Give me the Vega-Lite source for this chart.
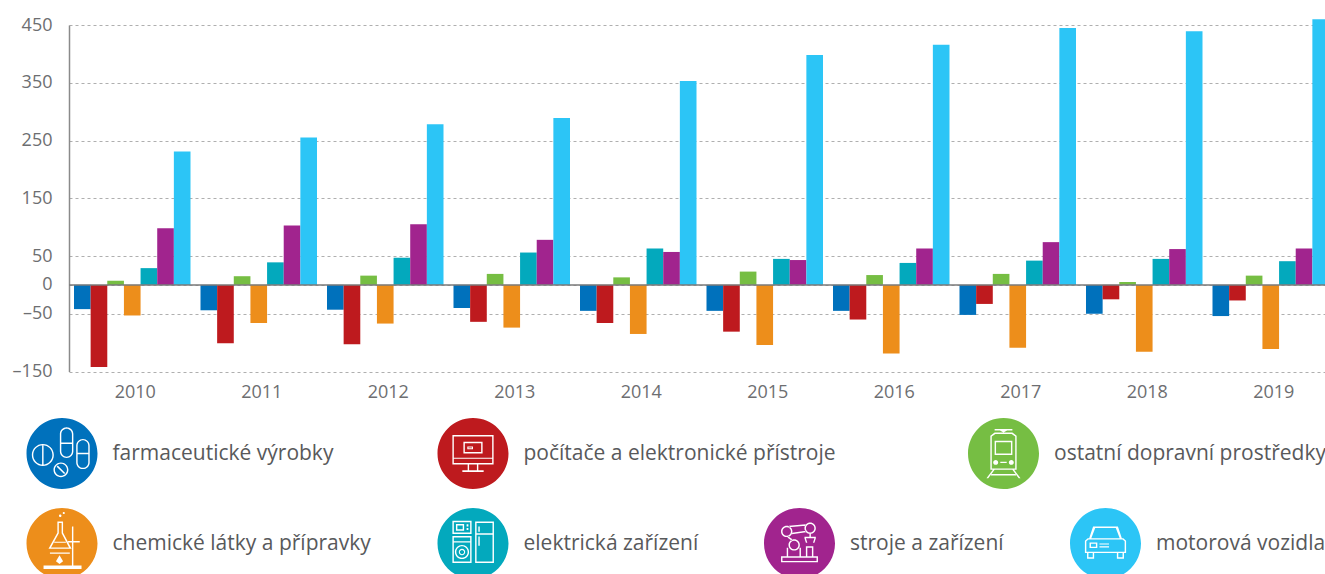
{"$schema":"https://vega.github.io/schema/vega-lite/v6.json","width":1256,"height":346.5,"autosize":"none","padding":{"left":69,"top":25,"right":0,"bottom":202.5},"background":"white","config":{"view":{"stroke":null},"font":"Open Sans","legend":{"padding":0,"labelFont":"Open Sans","labelFontSize":21,"labelColor":"#58595B","labelOffset":15,"labelLimit":500,"symbolStrokeWidth":0,"symbolOpacity":1}},"data":{"values":[
{"year":"2010","series":"farmaceutické výrobky","value":-42},{"year":"2010","series":"počítače a elektronické přístroje","value":-142},{"year":"2010","series":"ostatní dopravní prostředky","value":7},{"year":"2010","series":"chemické látky a přípravky","value":-53},{"year":"2010","series":"elektrická zařízení","value":29},{"year":"2010","series":"stroje a zařízení","value":98},{"year":"2010","series":"motorová vozidla","value":231},
{"year":"2011","series":"farmaceutické výrobky","value":-44},{"year":"2011","series":"počítače a elektronické přístroje","value":-101},{"year":"2011","series":"ostatní dopravní prostředky","value":15},{"year":"2011","series":"chemické látky a přípravky","value":-66},{"year":"2011","series":"elektrická zařízení","value":39},{"year":"2011","series":"stroje a zařízení","value":103},{"year":"2011","series":"motorová vozidla","value":255},
{"year":"2012","series":"farmaceutické výrobky","value":-43},{"year":"2012","series":"počítače a elektronické přístroje","value":-103},{"year":"2012","series":"ostatní dopravní prostředky","value":16},{"year":"2012","series":"chemické látky a přípravky","value":-67},{"year":"2012","series":"elektrická zařízení","value":47},{"year":"2012","series":"stroje a zařízení","value":105},{"year":"2012","series":"motorová vozidla","value":278},
{"year":"2013","series":"farmaceutické výrobky","value":-40},{"year":"2013","series":"počítače a elektronické přístroje","value":-64},{"year":"2013","series":"ostatní dopravní prostředky","value":19},{"year":"2013","series":"chemické látky a přípravky","value":-74},{"year":"2013","series":"elektrická zařízení","value":56},{"year":"2013","series":"stroje a zařízení","value":78},{"year":"2013","series":"motorová vozidla","value":289},
{"year":"2014","series":"farmaceutické výrobky","value":-45},{"year":"2014","series":"počítače a elektronické přístroje","value":-66},{"year":"2014","series":"ostatní dopravní prostředky","value":13},{"year":"2014","series":"chemické látky a přípravky","value":-85},{"year":"2014","series":"elektrická zařízení","value":63},{"year":"2014","series":"stroje a zařízení","value":57},{"year":"2014","series":"motorová vozidla","value":353},
{"year":"2015","series":"farmaceutické výrobky","value":-45},{"year":"2015","series":"počítače a elektronické přístroje","value":-81},{"year":"2015","series":"ostatní dopravní prostředky","value":23},{"year":"2015","series":"chemické látky a přípravky","value":-104},{"year":"2015","series":"elektrická zařízení","value":45},{"year":"2015","series":"stroje a zařízení","value":43},{"year":"2015","series":"motorová vozidla","value":398},
{"year":"2016","series":"farmaceutické výrobky","value":-45},{"year":"2016","series":"počítače a elektronické přístroje","value":-60},{"year":"2016","series":"ostatní dopravní prostředky","value":17},{"year":"2016","series":"chemické látky a přípravky","value":-119},{"year":"2016","series":"elektrická zařízení","value":38},{"year":"2016","series":"stroje a zařízení","value":63},{"year":"2016","series":"motorová vozidla","value":416},
{"year":"2017","series":"farmaceutické výrobky","value":-52},{"year":"2017","series":"počítače a elektronické přístroje","value":-33},{"year":"2017","series":"ostatní dopravní prostředky","value":19},{"year":"2017","series":"chemické látky a přípravky","value":-109},{"year":"2017","series":"elektrická zařízení","value":42},{"year":"2017","series":"stroje a zařízení","value":74},{"year":"2017","series":"motorová vozidla","value":445},
{"year":"2018","series":"farmaceutické výrobky","value":-50},{"year":"2018","series":"počítače a elektronické přístroje","value":-25},{"year":"2018","series":"ostatní dopravní prostředky","value":5},{"year":"2018","series":"chemické látky a přípravky","value":-116},{"year":"2018","series":"elektrická zařízení","value":45},{"year":"2018","series":"stroje a zařízení","value":62},{"year":"2018","series":"motorová vozidla","value":439},
{"year":"2019","series":"farmaceutické výrobky","value":-54},{"year":"2019","series":"počítače a elektronické přístroje","value":-27},{"year":"2019","series":"ostatní dopravní prostředky","value":16},{"year":"2019","series":"chemické látky a přípravky","value":-111},{"year":"2019","series":"elektrická zařízení","value":41},{"year":"2019","series":"stroje a zařízení","value":63},{"year":"2019","series":"motorová vozidla","value":460}
]},
"layer":[{"encoding":{
"x":{"field":"year","type":"nominal","title":null,"scale":{"range":[0,1265],"paddingInner":0.079,"paddingOuter":0.0395},"axis":{"domain":false,"ticks":false,"labelAngle":0,"labelFont":"Open Sans","labelFontSize":18,"labelColor":"#6D6E71","labelPadding":12,"labelOffset":3,"grid":false}},
"xOffset":{"field":"series","type":"nominal","scale":{"domain":["farmaceutické výrobky","počítače a elektronické přístroje","ostatní dopravní prostředky","chemické látky a přípravky","elektrická zařízení","stroje a zařízení","motorová vozidla"],"paddingInner":0,"paddingOuter":0}},
"y":{"field":"value","type":"quantitative","title":null,"scale":{"domain":[-150,450],"nice":false,"zero":false},"axis":{"values":[450,350,250,150,50,0,-50,-150],"labelExpr":"datum.value<0?'–'+abs(datum.value):''+datum.value","domain":true,"domainColor":"#8A8A8A","domainWidth":1.5,"ticks":false,"labelFont":"Open Sans","labelFontSize":18,"labelColor":"#6D6E71","labelPadding":17,"grid":true,"gridColor":"#AFAFAF","gridWidth":1,"gridDash":[3,3]}}},
"resolve":{"scale":{"color":"independent"}},
"layer":[
{"transform":[{"filter":"datum.series==='farmaceutické výrobky'"}],"mark":{"type":"bar"},"encoding":{"color":{"field":"series","type":"nominal","scale":{"domain":["farmaceutické výrobky"],"range":["#0071BC"]},"legend":{"title":null,"orient":"none","legendX":-42.5,"legendY":393,"symbolSize":5041,"symbolType":"M-1 0A1 1 0 1 1 1 0A1 1 0 1 1 -1 0ZM-0.85 0.04A0.31 0.31 0 1 0 -0.23 0.04A0.31 0.31 0 1 0 -0.85 0.04ZM-0.81 0.04A0.27 0.27 0 1 1 -0.27 0.04A0.27 0.27 0 1 1 -0.81 0.04ZM-0.56 -0.23V0.31H-0.52V-0.23ZM-0.06 -0.55V-0.06A0.19 0.19 0 0 0 0.32 -0.06V-0.55A0.19 0.19 0 0 0 -0.06 -0.55ZM-0.02 -0.55A0.15 0.15 0 0 1 0.28 -0.55V-0.06A0.15 0.15 0 0 1 -0.02 -0.06ZM-0.02 -0.31V-0.27H0.28V-0.31ZM0.4 -0.22V0.25A0.19 0.19 0 0 0 0.78 0.25V-0.22A0.19 0.19 0 0 0 0.4 -0.22ZM0.44 -0.22A0.15 0.15 0 0 1 0.74 -0.22V0.25A0.15 0.15 0 0 1 0.44 0.25ZM0.44 -0.02V0.02H0.74V-0.02ZM-0.24 0.46A0.21 0.21 0 1 0 0.18 0.46A0.21 0.21 0 1 0 -0.24 0.46ZM-0.2 0.46A0.17 0.17 0 1 1 0.14 0.46A0.17 0.17 0 1 1 -0.2 0.46ZM-0.12 0.34L-0.15 0.37L0.06 0.58L0.09 0.55Z"}}}},
{"transform":[{"filter":"datum.series==='počítače a elektronické přístroje'"}],"mark":{"type":"bar"},"encoding":{"color":{"field":"series","type":"nominal","scale":{"domain":["počítače a elektronické přístroje"],"range":["#BE1A1E"]},"legend":{"title":null,"orient":"none","legendX":368.5,"legendY":393,"symbolSize":5041,"symbolType":"M-1 0A1 1 0 1 1 1 0A1 1 0 1 1 -1 0ZM-0.58 -0.52V0.31H0.58V-0.52ZM-0.54 -0.48H0.54V0.27H-0.54ZM-0.54 0.12V0.15H0.54V0.12ZM-0.27 -0.33V0H0.27V-0.33ZM-0.23 -0.29H0.23V-0.04H-0.23ZM-0.16 -0.2V-0.12H0V-0.2ZM-0.13 -0.17H-0.03V-0.15H-0.13ZM-0.15 0.31V0.47H-0.11V0.31ZM0.11 0.31V0.47H0.15V0.31ZM-0.3 0.47V0.52H0.3V0.47Z"}}}},
{"transform":[{"filter":"datum.series==='ostatní dopravní prostředky'"}],"mark":{"type":"bar"},"encoding":{"color":{"field":"series","type":"nominal","scale":{"domain":["ostatní dopravní prostředky"],"range":["#76BE43"]},"legend":{"title":null,"orient":"none","legendX":899,"legendY":393,"symbolSize":5041,"symbolType":"M-1 0A1 1 0 1 1 1 0A1 1 0 1 1 -1 0ZM-0.37 -0.5V0.46H0.37V-0.5L0.25 -0.59H-0.25ZM-0.33 -0.48L-0.23 -0.55H0.23L0.33 -0.48V0.42H-0.33ZM-0.25 -0.36V0.04H0.25V-0.36ZM-0.21 -0.32H0.21V0H-0.21ZM-0.29 0.25A0.07 0.07 0 1 0 -0.15 0.25A0.07 0.07 0 1 0 -0.29 0.25ZM0.15 0.25A0.07 0.07 0 1 0 0.29 0.25A0.07 0.07 0 1 0 0.15 0.25ZM-0.09 0.23V0.27H0.09V0.23ZM-0.25 -0.69V-0.65H0.25V-0.69ZM-0.1 -0.65L0 -0.59L0.1 -0.65ZM-0.355 0.58V0.62H0.355V0.58ZM-0.3 0.46L-0.48 0.7L-0.43 0.7L-0.25 0.46ZM0.25 0.46L0.43 0.7L0.48 0.7L0.3 0.46Z"}}}},
{"transform":[{"filter":"datum.series==='chemické látky a přípravky'"}],"mark":{"type":"bar"},"encoding":{"color":{"field":"series","type":"nominal","scale":{"domain":["chemické látky a přípravky"],"range":["#ED8E1B"]},"legend":{"title":null,"orient":"none","legendX":-42.5,"legendY":483,"symbolSize":5041,"symbolType":"M-1 0A1 1 0 1 1 1 0A1 1 0 1 1 -1 0ZM-0.13 -0.62V-0.3L-0.38 0.15H0.27L0.03 -0.3V-0.62ZM-0.09 -0.58H-0.01V-0.29L0.2 0.11H-0.31L-0.09 -0.29ZM-0.22 -0.05V-0.02H0.11V-0.05ZM-0.34 0.25V0.29H0.22V0.25ZM0.28 -0.48V0.62H0.32V-0.48ZM0.17 -0.07V-0.03H0.28V-0.07ZM0.32 -0.07V-0.03H0.5V-0.07ZM-0.52 0.62V0.72H0.55V0.62ZM-0.07 0.33L-0.17 0.5L-0.07 0.58L0.03 0.5ZM-0.085 -0.78A0.035 0.035 0 1 0 -0.015 -0.78A0.035 0.035 0 1 0 -0.085 -0.78ZM0.02 -0.86A0.03 0.03 0 1 0 0.08 -0.86A0.03 0.03 0 1 0 0.02 -0.86Z"}}}},
{"transform":[{"filter":"datum.series==='elektrická zařízení'"}],"mark":{"type":"bar"},"encoding":{"color":{"field":"series","type":"nominal","scale":{"domain":["elektrická zařízení"],"range":["#03A9BD"]},"legend":{"title":null,"orient":"none","legendX":368.5,"legendY":483,"symbolSize":5041,"symbolType":"M-1 0A1 1 0 1 1 1 0A1 1 0 1 1 -1 0ZM-0.58 -0.64V-0.27H-0.04V-0.64ZM-0.54 -0.6H-0.08V-0.31H-0.54ZM-0.48 -0.55V-0.36H-0.25V-0.55ZM-0.44 -0.51H-0.29V-0.4H-0.44ZM-0.18 -0.54V-0.48H-0.13V-0.54ZM-0.18 -0.44V-0.38H-0.13V-0.44ZM-0.58 -0.21V0.55H-0.04V-0.21ZM-0.54 -0.17H-0.08V0.51H-0.54ZM-0.54 -0.06V-0.03H-0.08V-0.06ZM-0.51 0.24A0.2 0.2 0 1 0 -0.11 0.24A0.2 0.2 0 1 0 -0.51 0.24ZM-0.47 0.24A0.16 0.16 0 1 1 -0.15 0.24A0.16 0.16 0 1 1 -0.47 0.24ZM-0.4 0.24A0.09 0.09 0 1 0 -0.22 0.24A0.09 0.09 0 1 0 -0.4 0.24ZM-0.37 0.24A0.06 0.06 0 1 1 -0.25 0.24A0.06 0.06 0 1 1 -0.37 0.24ZM0.06 -0.62V0.55H0.59V-0.62ZM0.1 -0.58H0.55V0.51H0.1ZM0.1 -0.29V-0.25H0.55V-0.29ZM0.15 -0.48V-0.33H0.19V-0.48ZM0.15 -0.2V0.06H0.19V-0.2Z"}}}},
{"transform":[{"filter":"datum.series==='stroje a zařízení'"}],"mark":{"type":"bar"},"encoding":{"color":{"field":"series","type":"nominal","scale":{"domain":["stroje a zařízení"],"range":["#A1248E"]},"legend":{"title":null,"orient":"none","legendX":695,"legendY":483,"symbolSize":5041,"symbolType":"M-1 0A1 1 0 1 1 1 0A1 1 0 1 1 -1 0ZM-0.52 0.36V0.53H0.52V0.36ZM-0.48 0.4H0.48V0.49H-0.48ZM-0.36 0.12V0.36H-0.32V0.12ZM0 0.12V0.36H0.04V0.12ZM-0.31 0.04A0.16 0.16 0 1 0 0.01 0.04A0.16 0.16 0 1 0 -0.31 0.04ZM-0.27 0.04A0.12 0.12 0 1 1 -0.03 0.04A0.12 0.12 0 1 1 -0.27 0.04ZM-0.52 -0.34A0.16 0.16 0 1 0 -0.2 -0.34A0.16 0.16 0 1 0 -0.52 -0.34ZM-0.48 -0.34A0.12 0.12 0 1 1 -0.24 -0.34A0.12 0.12 0 1 1 -0.48 -0.34ZM0.14 -0.43A0.16 0.16 0 1 0 0.46 -0.43A0.16 0.16 0 1 0 0.14 -0.43ZM0.18 -0.43A0.12 0.12 0 1 1 0.42 -0.43A0.12 0.12 0 1 1 0.18 -0.43ZM-0.3 -0.5L-0.3 -0.46L0.17 -0.5L0.17 -0.54ZM-0.21 -0.3L-0.21 -0.26L0.18 -0.32L0.18 -0.36ZM-0.31 -0.2L-0.34 -0.17L-0.22 -0.08L-0.19 -0.11ZM0.28 -0.27V-0.19H0.32V-0.27ZM0.14 -0.19V-0.15H0.46V-0.19ZM0.14 -0.15L0.18 -0.02L0.22 -0.02L0.18 -0.15ZM0.42 -0.15L0.38 -0.02L0.42 -0.02L0.46 -0.15ZM0.18 0.08V0.36H0.39V0.08ZM0.22 0.12H0.35V0.36H0.22Z"}}}},
{"transform":[{"filter":"datum.series==='motorová vozidla'"}],"mark":{"type":"bar"},"encoding":{"color":{"field":"series","type":"nominal","scale":{"domain":["motorová vozidla"],"range":["#2CC5F6"]},"legend":{"title":null,"orient":"none","legendX":1001,"legendY":483,"symbolSize":5041,"symbolType":"M-1 0A1 1 0 1 1 1 0A1 1 0 1 1 -1 0ZM-0.58 -0.08V0.27H0.58V-0.08L0.5 -0.15H-0.5ZM-0.54 -0.06L-0.48 -0.11H0.48L0.54 -0.06V0.23H-0.54ZM-0.46 -0.15H-0.4L-0.29 -0.44H0.29L0.4 -0.15H0.46L0.35 -0.48H-0.35ZM-0.45 -0.03V0.13H-0.23V-0.03ZM-0.41 0.01H-0.27V0.09H-0.41ZM-0.17 0V0.03H0.1V0ZM-0.17 0.08V0.11H0.1V0.08ZM-0.52 0.27V0.43H-0.32V0.27ZM-0.48 0.27H-0.36V0.39H-0.48ZM0.32 0.27V0.43H0.52V0.27ZM0.36 0.27H0.48V0.39H0.36Z"}}}}
]},
{"data":{"values":[{"baseline":0}]},"mark":{"type":"rule","color":"#7A7A7A","strokeWidth":1.5},"encoding":{"y":{"field":"baseline","type":"quantitative","title":null,"axis":{"values":[450,350,250,150,50,0,-50,-150],"labelExpr":"datum.value<0?'–'+abs(datum.value):''+datum.value","domain":true,"domainColor":"#8A8A8A","domainWidth":1.5,"ticks":false,"labelFont":"Open Sans","labelFontSize":18,"labelColor":"#6D6E71","labelPadding":17,"grid":true,"gridColor":"#AFAFAF","gridWidth":1,"gridDash":[3,3]}}}}
]}
